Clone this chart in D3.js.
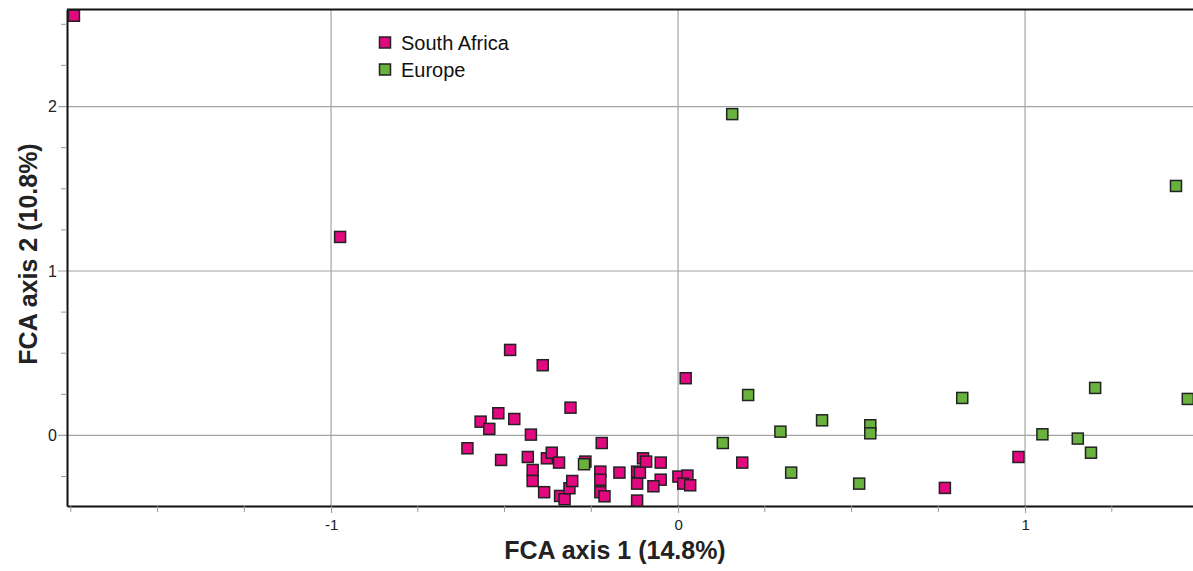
<!DOCTYPE html>
<html>
<head>
<meta charset="utf-8">
<script src="https://cdn.jsdelivr.net/npm/d3@7"></script>
<style>
  body { margin: 0; background: #fff; }
  svg { display: block; font-family: "Liberation Sans", Arial, sans-serif; }
  .axis text { font-size: 15px; fill: #222; font-family: "Liberation Sans", Arial, sans-serif; }
  .axis-y text { font-size: 16px; }
</style>
</head>
<body>
<div id="chart"></div>
<script>
// FCA scores, [axis1, axis2]
const southAfrica = [
  [-1.741, 2.552], [-0.974, 1.207], [-0.484, 0.520], [-0.390, 0.427], [0.022, 0.348],
  [-0.310, 0.169], [-0.518, 0.135], [-0.569, 0.084], [-0.472, 0.100], [-0.544, 0.040],
  [-0.424, 0.005], [-0.607, -0.078], [-0.220, -0.046], [-0.510, -0.149], [-0.433, -0.131],
  [-0.378, -0.139], [-0.364, -0.105], [-0.343, -0.165], [-0.267, -0.159], [-0.419, -0.210],
  [-0.419, -0.277], [-0.386, -0.345], [-0.340, -0.368], [-0.327, -0.388], [-0.313, -0.321],
  [-0.305, -0.277], [-0.224, -0.220], [-0.224, -0.269], [-0.224, -0.345], [-0.212, -0.370],
  [-0.169, -0.226], [-0.118, -0.220], [-0.110, -0.226], [-0.118, -0.293], [-0.118, -0.396],
  [-0.101, -0.139], [-0.092, -0.159], [-0.050, -0.165], [-0.050, -0.269], [-0.071, -0.309],
  [0.001, -0.250], [0.027, -0.244], [0.015, -0.293], [0.035, -0.303], [0.185, -0.165],
  [0.769, -0.319], [0.981, -0.131]
];
const europe = [
  [-0.271, -0.175], [0.156, 1.954], [1.435, 1.517], [0.202, 0.246], [0.129, -0.046],
  [0.295, 0.023], [0.415, 0.092], [0.554, 0.062], [0.554, 0.013], [0.326, -0.226],
  [0.522, -0.293], [0.819, 0.228], [1.050, 0.007], [1.152, -0.019], [1.190, -0.105],
  [1.202, 0.289], [1.469, 0.222]
];
const groupNames = ["South Africa", "Europe"];
const groupColors = ["#e2087f", "#6ab23e"];
const majorTicks = [-1, 0, 1];
const majorTicksY = [0, 1, 2];
const xTitle = "FCA axis 1 (14.8%)";
const yTitle = "FCA axis 2 (10.8%)";

const W = 1193, H = 571;
const margin = { top: 9.5, right: 0, bottom: 65, left: 67 };
const innerW = W - margin.left - margin.right;
const innerH = H - margin.top - margin.bottom;

const svg = d3.select("#chart").append("svg")
  .attr("width", W).attr("height", H);

const g = svg.append("g")
  .attr("transform", `translate(${margin.left},${margin.top})`);

const x = d3.scaleLinear().domain([-1.761, 1.484]).range([0, innerW]);
const y = d3.scaleLinear().domain([-0.429, 2.590]).range([innerH, 0]);

// grid
g.append("g").selectAll("line").data(majorTicks).join("line")
  .attr("x1", d => x(d)).attr("x2", d => x(d))
  .attr("y1", 0).attr("y2", innerH)
  .attr("stroke", "#a3a3a3").attr("stroke-width", 1.2);
g.append("g").selectAll("line").data(majorTicksY).join("line")
  .attr("x1", -9).attr("x2", innerW)
  .attr("y1", d => y(d)).attr("y2", d => y(d))
  .attr("stroke", "#a3a3a3").attr("stroke-width", 1.2);

// axes: minor ticks every 0.25
const minorX = d3.range(-1.75, 1.5, 0.25).filter(v => Math.abs(v - Math.round(v)) > 1e-6);
const minorY = d3.range(-0.25, 2.6, 0.25).filter(v => Math.abs(v - Math.round(v)) > 1e-6);

const xAxis = g.append("g").attr("class", "axis axis-x").attr("transform", `translate(0,${innerH})`);
xAxis.call(d3.axisBottom(x).tickValues(majorTicks).tickFormat(d => String(d)).tickSize(7).tickSizeOuter(0));
xAxis.attr("font-size", 15).attr("font-family", null);
xAxis.append("g").selectAll("line").data(minorX).join("line")
  .attr("x1", d => x(d)).attr("x2", d => x(d)).attr("y1", 0).attr("y2", 6)
  .attr("stroke", "#999");
xAxis.select(".domain").attr("stroke", "#111").attr("stroke-width", 2);
xAxis.selectAll(".tick line").attr("stroke", "#999");
xAxis.selectAll(".tick text").attr("dy", "0.95em");

const yAxis = g.append("g").attr("class", "axis axis-y");
yAxis.call(d3.axisLeft(y).tickValues(majorTicksY).tickFormat(d => String(d)).tickSize(0).tickPadding(10).tickSizeOuter(0));
yAxis.attr("font-size", 16).attr("font-family", null);
yAxis.append("g").selectAll("line").data(minorY).join("line")
  .attr("x1", -6).attr("x2", 0).attr("y1", d => y(d)).attr("y2", d => y(d))
  .attr("stroke", "#999");
yAxis.select(".domain").attr("stroke", "#111").attr("stroke-width", 2);

// top border
g.append("line").attr("x1", 0).attr("x2", innerW).attr("y1", 0).attr("y2", 0)
  .attr("stroke", "#111").attr("stroke-width", 2);

// points
const sz = 11;
const groups = [southAfrica, europe];
groups.forEach((pts, i) => {
  g.append("g").selectAll("rect").data(pts).join("rect")
    .attr("x", d => x(d[0]) - sz / 2)
    .attr("y", d => y(d[1]) - sz / 2)
    .attr("width", sz).attr("height", sz)
    .attr("fill", groupColors[i])
    .attr("stroke", "#222").attr("stroke-width", 1.5);
});

// legend
const legend = svg.append("g").attr("transform", "translate(385,42.5)");
const items = legend.selectAll("g").data(groupNames).join("g")
  .attr("transform", (d, i) => `translate(0,${i * 27})`);
items.append("rect")
  .attr("x", -5.5).attr("y", -5.5).attr("width", 11).attr("height", 11)
  .attr("fill", (d, i) => groupColors[i]).attr("stroke", "#222").attr("stroke-width", 1.5);
items.append("text")
  .attr("x", 16).attr("y", 7.2)
  .attr("font-size", 20).attr("fill", "#111")
  .text(d => d);

// axis titles
svg.append("text")
  .attr("x", 615).attr("y", 559)
  .attr("text-anchor", "middle")
  .attr("font-size", 25).attr("font-weight", "bold").attr("fill", "#222")
  .text(xTitle);
svg.append("text")
  .attr("transform", "translate(37,254) rotate(-90)")
  .attr("text-anchor", "middle")
  .attr("font-size", 25).attr("font-weight", "bold").attr("fill", "#222")
  .text(yTitle);
</script>
</body>
</html>
